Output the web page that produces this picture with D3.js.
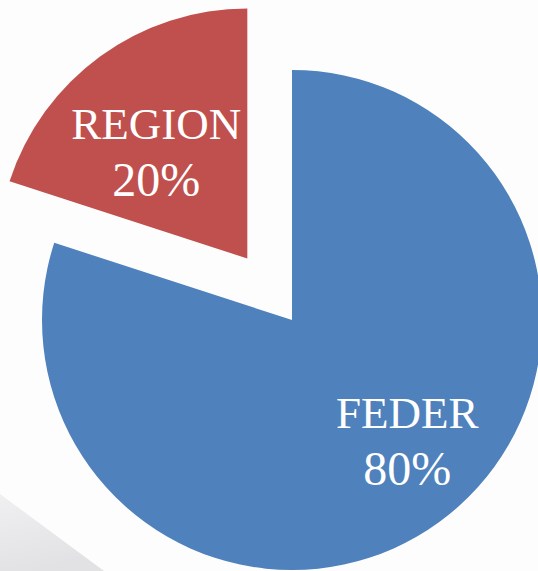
<!DOCTYPE html>
<html>
<head>
<meta charset="utf-8">
<script src="https://cdn.jsdelivr.net/npm/d3@7"></script>
<style>
  html, body { margin: 0; padding: 0; background: #fdfdfd; }
  svg { display: block; }
</style>
</head>
<body>
<div id="chart"></div>
<script>
// chart values
const categories = ['REGION', 'FEDER'];
const shares = [20, 80];
const labels = ['20%', '80%'];
const colors = ['#c0504d', '#4f81bd'];

const width = 538;
const height = 571;
const radius = 250;
const center = { x: 292, y: 320 };
const explode = 76;           // offset of the pulled-out slice
// small nudges from the arc centroid, as the original places its labels
const labelNudge = { REGION: [-3, 30], FEDER: [27, 15] };

const svg = d3.select('#chart').append('svg')
  .attr('width', width)
  .attr('height', height);

// faint grey band in the lower left corner of the background
const defs = svg.append('defs');
const grad = defs.append('linearGradient')
  .attr('id', 'band')
  .attr('x1', 0).attr('y1', 0).attr('x2', 0.3).attr('y2', 1);
grad.append('stop').attr('offset', 0).attr('stop-color', '#f0f0f2');
grad.append('stop').attr('offset', 1).attr('stop-color', '#e2e2e4');

svg.append('path')
  .attr('d', 'M0,494 L104,571 L0,571 Z')
  .attr('fill', 'url(#band)');

const data = categories.map((c, i) => ({ name: c, value: shares[i], label: labels[i], color: colors[i] }));

// FEDER starts at 12 o'clock and runs clockwise, REGION fills the rest
const pie = d3.pie()
  .sort(null)
  .value(d => d.value)
  .startAngle(-2 * Math.PI * shares[0] / 100)
  .endAngle(2 * Math.PI - 2 * Math.PI * shares[0] / 100);

const arc = d3.arc().innerRadius(0).outerRadius(radius);
const labelArc = d3.arc().innerRadius(radius * 0.6).outerRadius(radius * 0.6);

const g = svg.append('g')
  .attr('transform', 'translate(' + center.x + ',' + center.y + ')');

const slices = g.selectAll('g.slice')
  .data(pie(data))
  .join('g')
  .attr('class', 'slice')
  .attr('transform', d => {
    if (d.data.name !== 'REGION') return null;
    const a = (d.startAngle + d.endAngle) / 2;
    return 'translate(' + (Math.sin(a) * explode) + ',' + (-Math.cos(a) * explode) + ')';
  });

slices.append('path')
  .attr('d', arc)
  .attr('fill', d => d.data.color);

const text = slices.append('text')
  .attr('transform', d => {
    const c = labelArc.centroid(d);
    const n = labelNudge[d.data.name];
    return 'translate(' + (c[0] + n[0]) + ',' + (c[1] + n[1]) + ')';
  })
  .attr('text-anchor', 'middle')
  .attr('fill', '#ffffff')
  .style('font-family', '"Liberation Serif", "DejaVu Serif", serif');

text.append('tspan')
  .attr('x', 0)
  .attr('y', -28)
  .style('font-size', '45px')
  .text(d => d.data.name);

text.append('tspan')
  .attr('x', 0)
  .attr('y', 29)
  .style('font-size', '48px')
  .text(d => d.data.label);
</script>
</body>
</html>
